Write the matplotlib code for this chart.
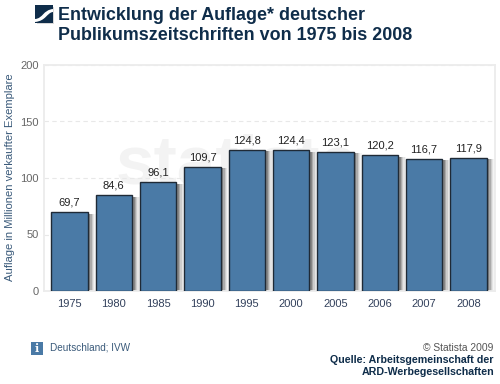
import matplotlib
matplotlib.use("Agg")
import matplotlib.pyplot as plt
from matplotlib.patches import Rectangle, PathPatch
from matplotlib.path import Path

years = ["1975", "1980", "1985", "1990", "1995", "2000", "2005", "2006", "2007", "2008"]
values = [69.7, 84.6, 96.1, 109.7, 124.8, 124.4, 123.1, 120.2, 116.7, 117.9]
labels = ["69,7", "84,6", "96,1", "109,7", "124,8", "124,4", "123,1", "120,2", "116,7", "117,9"]
yticks = [0, 50, 100, 150, 200]

W, H = 500, 384
NAVY = "#0f2d4a"
BLUE = "#4a7aa6"

plt.rcParams["font.family"] = ["Liberation Sans", "DejaVu Sans"]

fig = plt.figure(figsize=(W / 100, H / 100), dpi=100)

# pixel helper for anything outside the axes
bg = fig.add_axes([0, 0, 1, 1])
bg.set_xlim(0, W)
bg.set_ylim(H, 0)
bg.axis("off")

ax = fig.add_axes([44 / W, 1 - 291 / H, 451 / W, 226 / H])
ax.set_xlim(-0.575, 9.6)
ax.set_ylim(0, 200)
for s in ax.spines.values():
    s.set_color("#ececec")
    s.set_linewidth(1.3)
ax.set_yticks(yticks)
ax.set_xticks(range(len(years)))
ax.set_xticklabels(years)
ax.tick_params(length=0, labelsize=8, pad=6)
ax.tick_params(axis="x", labelcolor="#33415c")
ax.tick_params(axis="y", labelcolor="#666666", pad=4)
ax.grid(axis="y", color="#e8e8e8", linewidth=0.8, linestyle=(0, (4, 3)))
ax.set_axisbelow(True)

# watermark
ax.text(1.05, 111, "statista", fontsize=50, fontweight="bold", color="#f3f3f3",
        ha="left", va="center", zorder=0.5)

width = 0.82
for i, (v, lab) in enumerate(zip(values, labels)):
    # soft shadow right of the bar
    for k, g in enumerate(["#f4f4f4", "#e4e4e4", "#cccccc", "#aaaaaa", "#858585"]):
        off = (5 - k) * 0.03
        ax.add_patch(Rectangle((i - width / 2 + 0.03, 0), width + off, v - 1.2, color=g, lw=0, zorder=2))
    ax.bar(i, v, width=width, color=BLUE, edgecolor="#1f2a36", linewidth=1.0, zorder=3)
    ax.text(i, v + 4, lab, ha="center", va="bottom", fontsize=8, color="#222222", zorder=4)

# y label, placed by hand so it stays inside the picture
bg.text(10, 177, "Auflage in Millionen verkaufter Exemplare", fontsize=8.1, color="#3a5a7a",
        rotation=90, ha="center", va="center")

# logo
bg.add_patch(Rectangle((36.5, 6.5), 17, 17, color="#d8d8d8", lw=0))
bg.add_patch(Rectangle((35, 5), 18, 18, color=NAVY, lw=0))
swoosh = Path([(35, 19), (43, 18.5), (43, 10), (53, 9), (53, 12), (47, 12.5), (46, 21), (35, 22), (35, 19)],
              [Path.MOVETO, Path.CURVE4, Path.CURVE4, Path.CURVE4, Path.LINETO,
               Path.CURVE4, Path.CURVE4, Path.CURVE4, Path.CLOSEPOLY])
bg.add_patch(PathPatch(swoosh, facecolor="white", lw=0))

# title
bg.text(58, 15, "Entwicklung der Auflage* deutscher", fontsize=12.9, fontweight="bold", color=NAVY, va="center")
bg.text(58, 36, "Publikumszeitschriften von 1975 bis 2008", fontsize=12.9, fontweight="bold", color=NAVY, va="center")

# info box + region note
bg.add_patch(Rectangle((31, 342), 12, 13, color=BLUE, lw=0))
bg.text(37, 348.5, "i", fontsize=8, fontweight="bold", family="DejaVu Serif", color="white", ha="center", va="center")
bg.text(50, 348, "Deutschland; IVW", fontsize=7.2, color="#3a5a7a", va="center")

# source
bg.text(493, 348, "© Statista 2009", fontsize=7.4, color="#555555", ha="right", va="center")
bg.text(494, 360, "Quelle: Arbeitsgemeinschaft der", fontsize=7.7, fontweight="bold", color=NAVY, ha="right", va="center")
bg.text(494, 372, "ARD-Werbegesellschaften", fontsize=7.7, fontweight="bold", color=NAVY, ha="right", va="center")

fig.savefig("out.png", dpi=100)
